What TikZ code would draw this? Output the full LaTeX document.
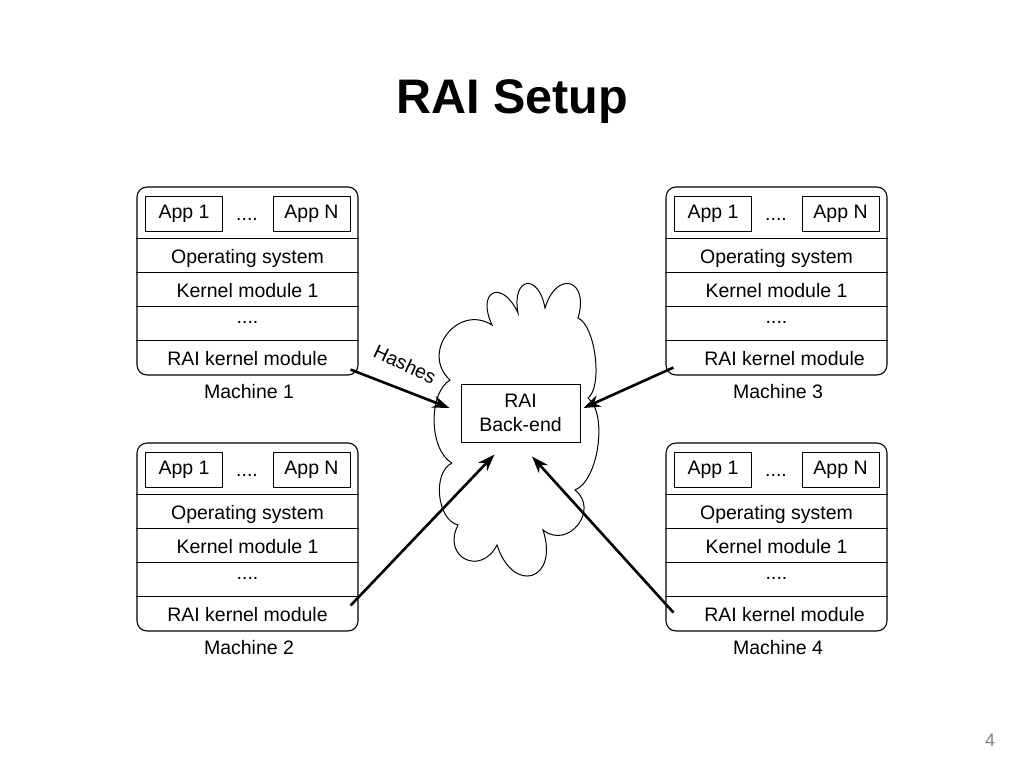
\documentclass[tikz,border=0pt]{standalone}
\usepackage{fontspec}
\setmainfont{Liberation Sans}
\usetikzlibrary{arrows.meta}

\tikzset{
	machine/.style={draw, rounded corners=10pt, minimum width=221pt, minimum height=188pt, line width=1.1pt},
	appbox/.style={draw, minimum width=77pt, minimum height=35pt, inner sep=0pt, line width=1pt},
	sep/.style={line width=1pt},
	txt/.style={anchor=base, inner sep=0pt},
	hasharrow/.style={line width=2.6pt, -{Stealth[length=17pt,width=12pt]}},
}

\begin{document}
\begin{tikzpicture}[x=1pt, y=-1pt, every node/.style={font=\fontsize{19.5}{24}\selectfont}]
			\useasboundingbox (0,0) rectangle (1024,768);
			\node[txt, font=\bfseries\fontsize{48.5}{52}\selectfont] (title) at (512,113) {RAI Setup};
			\foreach \n/\x/\y/\s in {1/137/187/0, 2/137/443/0, 3/666/187/8, 4/666/443/8}{
				\node[machine] (m\n) at (\x+110.5,\y+94) {};
				\node[appbox] (m\n-a1) at (\x+47,\y+26.5) {App 1};
				\node[txt] (m\n-dots) at (\x+110,\y+33) {....};
				\node[appbox] (m\n-an) at (\x+174.5,\y+26.5) {App N};
				\foreach \k in {52,86,120,154}
					\draw[sep] ([yshift=-\k]m\n.north west) -- ([yshift=-\k]m\n.north east);
				\node[txt] (m\n-os) at (\x+110.5,\y+76) {Operating system};
				\node[txt] (m\n-km) at (\x+110.5,\y+110) {Kernel module 1};
				\node[txt] (m\n-etc) at (\x+110.5,\y+136) {....};
				\node[txt] (m\n-rai) at (\x+110.5+\s,\y+178) {RAI kernel module};
				\node[txt] (m\n-lab) at (\x+112,\y+211) {Machine \n};
			}
			\draw[line width=1pt] (452,463) to[bend left=60, looseness=0.8] (450,380)
				to[bend left=85, looseness=1.5] (492,325) to[bend left=90, looseness=3.4] (518,313)
				to[bend left=90, looseness=3.4] (545,308) to[bend left=90, looseness=3] (578,318)
				to[bend left=60, looseness=0.6] (588,398) to[bend left=60, looseness=0.7] (575,490)
				to[bend left=90, looseness=1.6] (543,530) to[bend left=90, looseness=2.8] (497,545)
				to[bend left=90, looseness=2.1] (458,525) to[bend left=70, looseness=0.9] (452,463);
			\node[draw, fill=white, minimum width=119pt, minimum height=58pt, align=center, line width=1pt] (be) at (520.5,413) {RAI\\Back-end};
			\node[rotate=-25, inner sep=0pt] (hs) at (405,364) {Hashes};
			\draw[hasharrow] ([shift={(-8,-6)}]m1.south east) -- ([shift={(-11,-5)}]be.west);
			\draw[hasharrow] ([shift={(8,-8)}]m3.south west) -- ([shift={(3,-5)}]be.east);
			\draw[hasharrow] ([shift={(-8,-26)}]m2.south east) -- ([shift={(-26,12)}]be.south);
			\draw[hasharrow] ([shift={(8,-19)}]m4.south west) -- ([shift={(11.5,14)}]be.south);
			\node[text=gray, font=\fontsize{18}{20}\selectfont] (pg) at (990,740) {4};
\end{tikzpicture}
\end{document}
